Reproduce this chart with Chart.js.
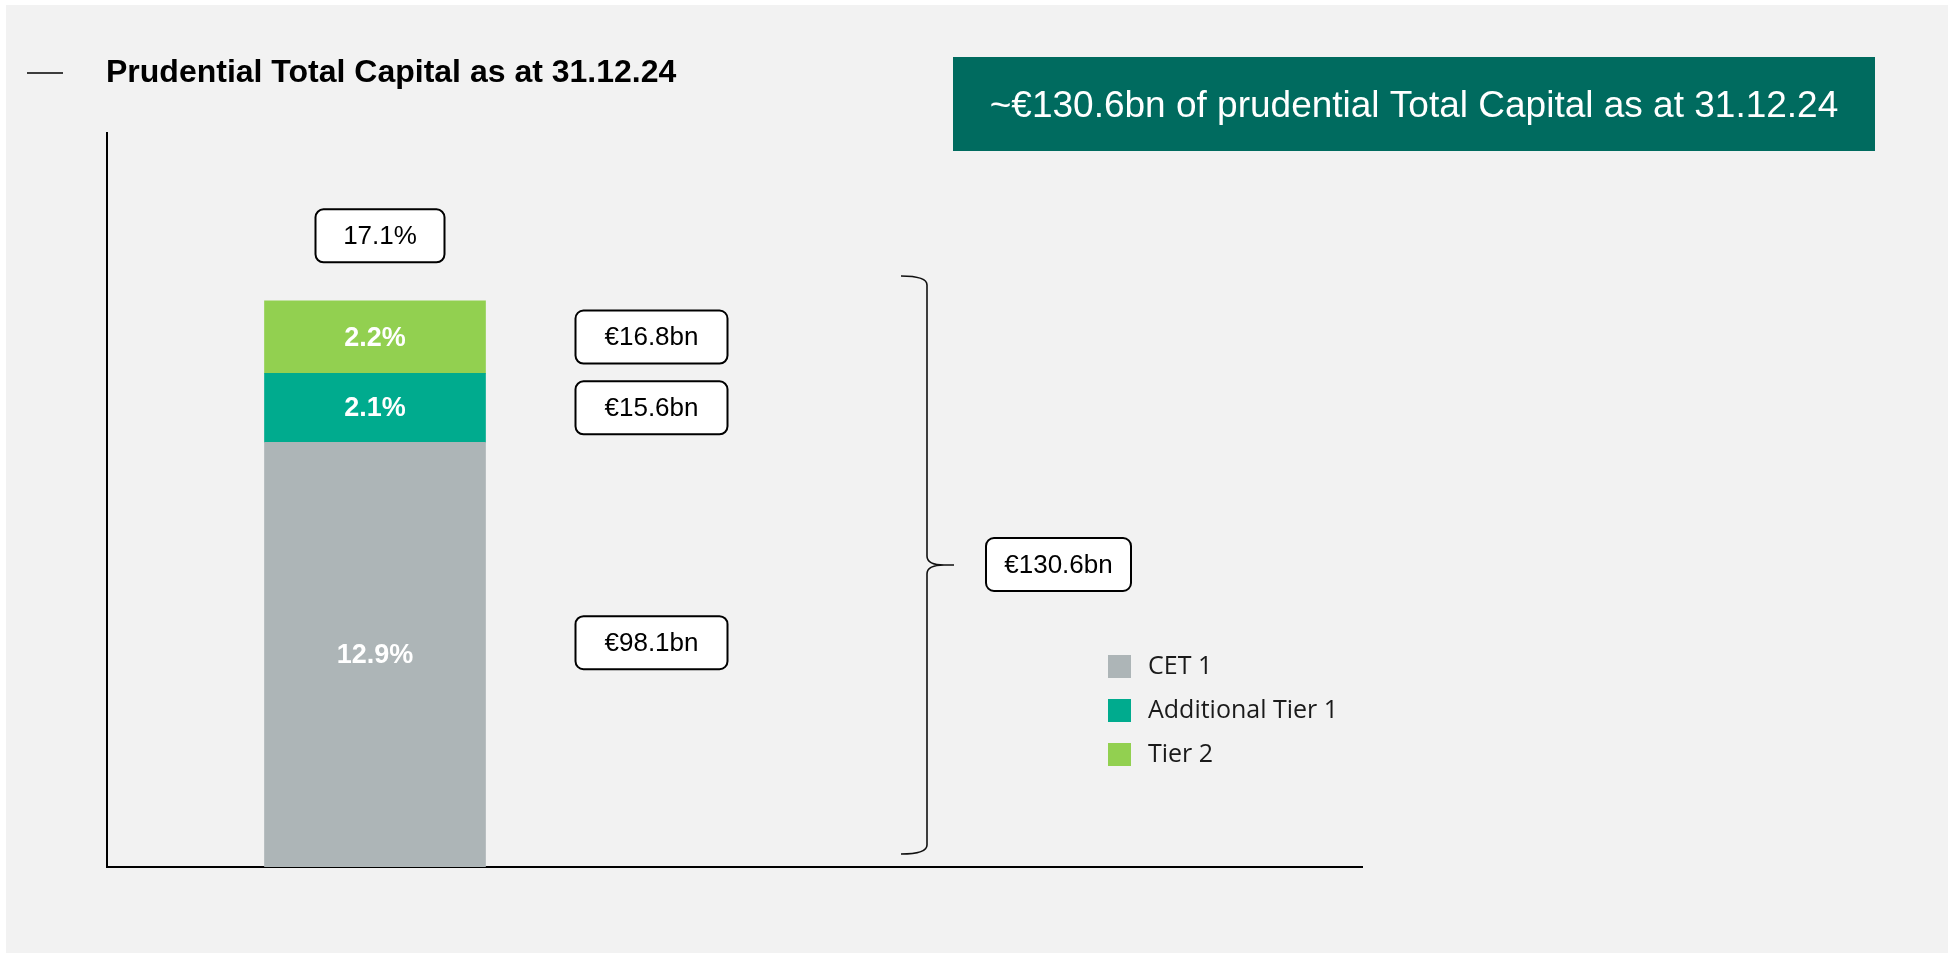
<!DOCTYPE html>
<html>
<head>
<meta charset="utf-8">
<script src="https://cdn.jsdelivr.net/npm/chart.js@4.4.0/dist/chart.umd.min.js"></script>
<style>
  html, body { margin: 0; padding: 0; background: #fff; }
  canvas { display: block; }
</style>
</head>
<body>
<canvas id="capital-chart" width="1955" height="954"></canvas>
<script>
// data (as at 31.12.24)
const categories = ['31.12.24'];
const seriesNames = ['CET 1', 'Additional Tier 1', 'Tier 2'];
const ratioValues = [12.9, 2.1, 2.2];      // % ratio per tier
const amountValues = [98.1, 15.6, 16.8];   // €bn per tier
const totalRatio = 17.1;
const totalAmount = 130.6;

const chartTitle = 'Prudential Total Capital as at 31.12.24';
const headline = '~€130.6bn of prudential Total Capital as at 31.12.24';

// styles
const seriesColors = ['#adb5b7', '#00ab8e', '#92d050'];
const ARIAL = '"Liberation Sans", Arial, sans-serif';
const amountNudge = [-12, 0, 0];

function roundBox(ctx, cx, cy, w, h, text) {
  const x = cx - w / 2, y = cy - h / 2, r = 8;
  ctx.beginPath();
  ctx.moveTo(x + r, y);
  ctx.arcTo(x + w, y, x + w, y + h, r);
  ctx.arcTo(x + w, y + h, x, y + h, r);
  ctx.arcTo(x, y + h, x, y, r);
  ctx.arcTo(x, y, x + w, y, r);
  ctx.closePath();
  ctx.fillStyle = '#fff';
  ctx.fill();
  ctx.lineWidth = 2;
  ctx.strokeStyle = '#000';
  ctx.stroke();
  ctx.fillStyle = '#000';
  ctx.font = '26px ' + ARIAL;
  ctx.textAlign = 'center';
  ctx.textBaseline = 'middle';
  ctx.fillText(text, cx, cy + 1);
}

const overlay = {
  id: 'overlay',
  beforeDraw(chart) {
    const ctx = chart.ctx;
    ctx.save();
    ctx.fillStyle = '#f2f2f2';
    ctx.fillRect(6, 5, 1942, 948);
    ctx.restore();
  },
  afterDraw(chart) {
    const ctx = chart.ctx;
    const area = chart.chartArea;
    const xScale = chart.scales.x;
    ctx.save();

    // title + dash
    ctx.strokeStyle = '#000';
    ctx.lineWidth = 1.5;
    ctx.beginPath();
    ctx.moveTo(27, 73);
    ctx.lineTo(63, 73);
    ctx.stroke();
    ctx.fillStyle = '#000';
    ctx.font = 'bold 32px ' + ARIAL;
    ctx.textAlign = 'left';
    ctx.textBaseline = 'alphabetic';
    ctx.fillText(chartTitle, 106, 82);

    // headline box
    ctx.fillStyle = '#006b5f';
    ctx.fillRect(953, 57, 922, 94);
    ctx.fillStyle = '#fff';
    ctx.font = '37px ' + ARIAL;
    ctx.textAlign = 'center';
    ctx.fillText(headline, 1414, 117);

    // x axis runs on under the annotations
    ctx.strokeStyle = '#000';
    ctx.lineWidth = 2;
    ctx.beginPath();
    ctx.moveTo(area.right - 1, xScale.top);
    ctx.lineTo(1363, xScale.top);
    ctx.stroke();

    // labels inside the bar and amount boxes
    let stackTop = area.bottom, barX = 0, barRight = 0;
    chart.data.datasets.forEach((ds, i) => {
      const el = chart.getDatasetMeta(i).data[0];
      const midY = (el.y + el.base) / 2;
      barX = el.x;
      barRight = el.x + el.width / 2;
      stackTop = Math.min(stackTop, el.y);
      ctx.fillStyle = '#fff';
      ctx.font = 'bold 27px ' + ARIAL;
      ctx.textAlign = 'center';
      ctx.textBaseline = 'middle';
      ctx.fillText(ds.data[0].toFixed(1) + '%', el.x, midY + 1);
      roundBox(ctx, barRight + 166, midY + amountNudge[i], 152, 53,
        '€' + amountValues[i].toFixed(1) + 'bn');
    });

    // total ratio above the bar
    roundBox(ctx, barX + 5, stackTop - 65, 129, 53, totalRatio.toFixed(1) + '%');

    // brace and total amount
    ctx.strokeStyle = '#111';
    ctx.lineWidth = 1.6;
    ctx.beginPath();
    ctx.moveTo(901, 276);
    ctx.quadraticCurveTo(927, 276, 927, 285);
    ctx.lineTo(927, 556);
    ctx.quadraticCurveTo(927, 565, 944, 565);
    ctx.lineTo(954, 565);
    ctx.moveTo(944, 565);
    ctx.quadraticCurveTo(927, 565, 927, 574);
    ctx.lineTo(927, 845);
    ctx.quadraticCurveTo(927, 854, 901, 854);
    ctx.stroke();
    roundBox(ctx, 1058.5, 564.5, 145, 53, '€' + totalAmount.toFixed(1) + 'bn');

    // legend
    chart.data.datasets.forEach((ds, i) => {
      const y = 655 + i * 44;
      ctx.fillStyle = ds.backgroundColor;
      ctx.fillRect(1108, y, 23, 23);
      ctx.fillStyle = '#1a1a1a';
      ctx.font = '25px "Open Sans", "Noto Sans", sans-serif';
      ctx.textAlign = 'left';
      ctx.textBaseline = 'alphabetic';
      ctx.fillText(ds.label, 1148, y + 19);
    });

    ctx.restore();
  }
};

new Chart(document.getElementById('capital-chart'), {
  type: 'bar',
  data: {
    labels: categories,
    datasets: seriesNames.map((name, i) => ({
      label: name,
      data: [ratioValues[i]],
      backgroundColor: seriesColors[i],
      borderWidth: 0,
      barThickness: 221
    }))
  },
  options: {
    responsive: false,
    devicePixelRatio: 1,
    animation: false,
    layout: { padding: { left: 107, right: 1312, top: 133, bottom: 87 } },
    plugins: {
      legend: { display: false },
      tooltip: { enabled: false }
    },
    scales: {
      x: {
        stacked: true,
        grid: { display: false, drawTicks: false },
        ticks: { display: false },
        border: { display: true, color: '#000', width: 2 }
      },
      y: {
        stacked: true,
        min: 0,
        max: 22.3,
        grid: { display: false, drawTicks: false },
        ticks: { display: false },
        border: { display: true, color: '#000', width: 2 }
      }
    }
  },
  plugins: [overlay]
});
</script>
</body>
</html>
